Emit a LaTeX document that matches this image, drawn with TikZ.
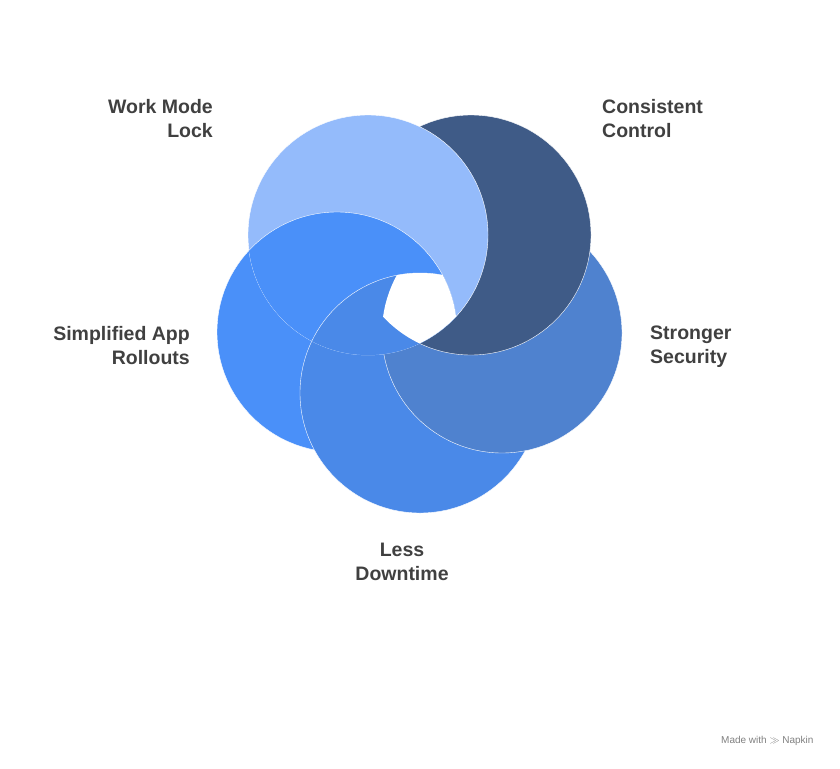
\documentclass[tikz,border=0pt]{standalone}
\usepackage{fontspec}
\setmainfont{Liberation Sans}
\definecolor{cLight}{HTML}{94BBFB}
\definecolor{cDark}{HTML}{3F5B87}
\definecolor{cStrong}{HTML}{4F82CF}
\definecolor{cDown}{HTML}{4A89E8}
\definecolor{cSimp}{HTML}{4A90F9}
\definecolor{txt}{HTML}{404040}
\begin{document}
\begin{tikzpicture}[x=1pt,y=-1pt,
  disc/.style={draw=white,line width=0.4pt},
  lab/.style={font=\bfseries\fontsize{19.5}{24}\selectfont,text=txt,inner sep=0pt}]
\useasboundingbox (0,0) rectangle (840,768);
\def\R{120}
\path[fill=cSimp,disc] (337,332) circle (\R);
\path[fill=cDown,disc] (420,393) circle (\R);
\path[fill=cStrong,disc] (502,333) circle (\R);
\path[fill=cDark,disc] (471,235) circle (\R);
\path[fill=cLight,disc] (368,235) circle (\R);
\begin{scope}
\clip (368,235) circle (\R);
\path[fill=cSimp,disc] (337,332) circle (\R);
\clip (337,332) circle (\R);
\path[fill=cDown,disc] (420,393) circle (\R);
\end{scope}
\begin{scope}
\clip (368,235) circle (\R);
\clip (471,235) circle (\R);
\clip (502,333) circle (\R);
\clip (420,393) circle (\R);
\clip (337,332) circle (\R);
\fill[white] (0,0) rectangle (840,768);
\end{scope}
\node[lab,align=right,anchor=north east] (wm) at (213,99) {Work Mode\\Lock};
\node[lab,align=left,anchor=north west] (cc) at (602,99) {Consistent\\Control};
\node[lab,align=left,anchor=north west] (ss) at (650,326) {Stronger\\Security};
\node[lab,align=right,anchor=north east] (sa) at (190,326) {Simplified App\\Rollouts};
\node[lab,align=center,anchor=north] (ld) at (402,543) {Less\\Downtime};
\node[font=\fontsize{10}{12}\selectfont,text=gray,anchor=east] (mw) at (817,741) {Made with \textbf{$\gg$} Napkin};
\end{tikzpicture}
\end{document}
